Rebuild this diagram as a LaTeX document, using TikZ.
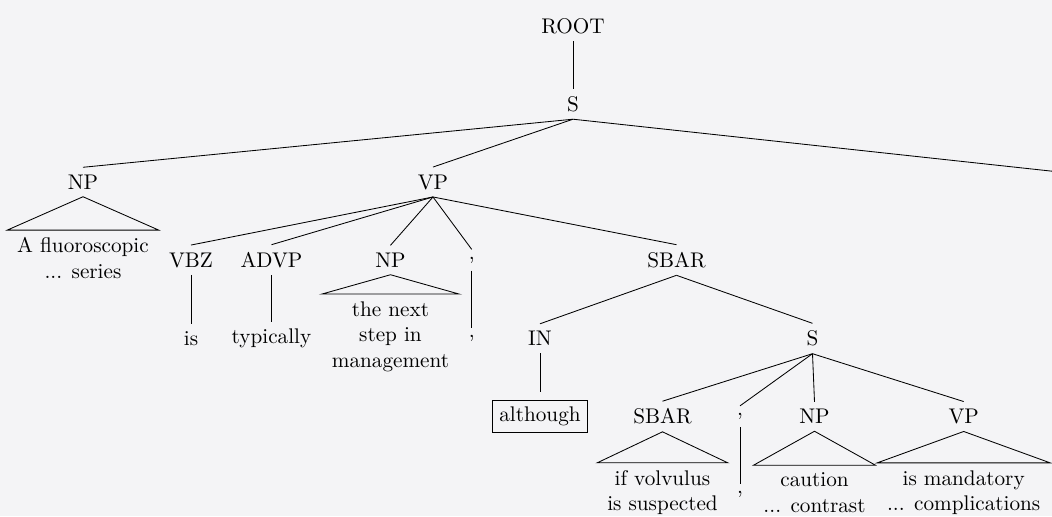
\documentclass[tikz,border=0pt]{standalone}
\definecolor{bg}{RGB}{244,244,246}
\begin{document}
\begin{tikzpicture}[x=0.4717pt,y=-0.4717pt,
  lab/.style={inner sep=3.33pt},
  leaf/.style={align=center, inner xsep=4.5pt, inner ysep=3.33pt},
  edge/.style={line width=0.4pt, line join=miter}]
\clip (0,0) rectangle (1052,516);
\fill[bg] (0,0) rectangle (1052,516);
% level 0-2
\node[lab] (root) at (573,26) {ROOT};
\node[lab] (s) at (573,104) {S};
\node[lab] (np1) at (83,182) {NP};
\node[lab] (vp1) at (433,182) {VP};
\coordinate (dotend) at (1078,174);
% level 3
\node[leaf] (np1l) at (83,258) {A fluoroscopic\\... series};
\node[lab] (vbz) at (191,260) {VBZ};
\node[lab] (advp) at (271.5,260) {ADVP};
\node[lab] (np2) at (390.5,260) {NP};
\node[lab] (c1) at (471.7,260) {,};
\node[lab] (sbar1) at (676.5,260) {SBAR};
% level 4
\node[lab] (is) at (191,338.5) {is};
\node[lab] (typ) at (271.5,338.5) {typically};
\node[leaf] (np2l) at (390.5,336.5) {the next\\step in\\management};
\node[lab] (c1l) at (471.7,338.5) {,};
\node[lab] (in) at (540,338.5) {IN};
\node[lab] (s2) at (812.5,338.5) {S};
% level 5
\node[lab] (alth) at (540,416.5) {\fbox{although}};
\node[lab] (sbar2) at (662.5,416.5) {SBAR};
\node[lab] (c2) at (740,416.5) {,};
\node[lab] (np3) at (814.5,416.5) {NP};
\node[lab] (vp2) at (963.7,416.5) {VP};
% level 6
\node[leaf] (sbar2l) at (662.5,492.5) {if volvulus\\is suspected};
\node[lab] (c2l) at (740,494.5) {,};
\node[leaf] (np3l) at (814.5,492.5) {caution\\... contrast};
\node[leaf] (vp2l) at (963.7,492.5) {is mandatory\\... complications};
% edges
\draw[edge] (root.south) -- (s.north);
\draw[edge] (s.south) -- (np1.north);
\draw[edge] (s.south) -- (vp1.north);
\draw[edge] (s.south) -- (dotend);
\draw[edge] (np1.south) -- (np1l.north west) -- (np1l.north east) -- cycle;
\draw[edge] (vp1.south) -- (vbz.north);
\draw[edge] (vp1.south) -- (advp.north);
\draw[edge] (vp1.south) -- (np2.north);
\draw[edge] (vp1.south) -- (c1.north);
\draw[edge] (vp1.south) -- (sbar1.north);
\draw[edge] (vbz.south) -- (is.north);
\draw[edge] (advp.south) -- (typ.north);
\draw[edge] (np2.south) -- (np2l.north west) -- (np2l.north east) -- cycle;
\draw[edge] (c1.south) -- (c1l.north);
\draw[edge] (sbar1.south) -- (in.north);
\draw[edge] (sbar1.south) -- (s2.north);
\draw[edge] (in.south) -- (alth.north);
\draw[edge] (s2.south) -- (sbar2.north);
\draw[edge] (s2.south) -- (c2.north);
\draw[edge] (s2.south) -- (np3.north);
\draw[edge] (s2.south) -- (vp2.north);
\draw[edge] (sbar2.south) -- (sbar2l.north west) -- (sbar2l.north east) -- cycle;
\draw[edge] (c2.south) -- (c2l.north);
\draw[edge] (np3.south) -- (np3l.north west) -- (np3l.north east) -- cycle;
\draw[edge] (vp2.south) -- (vp2l.north west) -- (vp2l.north east) -- cycle;
\end{tikzpicture}
\end{document}
